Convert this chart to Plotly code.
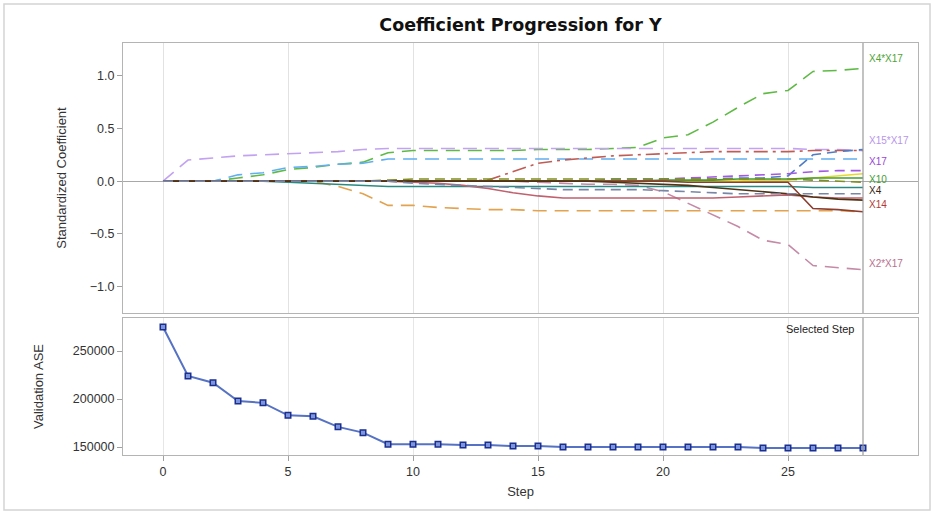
import plotly.graph_objects as go

steps = list(range(29))

# ---- Coefficient progression (standardized coefficients by step) ----
coef_names = ["X4*X17", "X15*X17", "Blue dashed", "Orange dashed", "X2*X17",
              "Red dashdot", "Steel dashed", "X17", "Yellow", "X10", "Olive dashed",
              "Teal", "X14", "Brown", "X4", "Gray dashed"]
x4x17 = [0, 0, 0, 0.03, 0.06, 0.11, 0.13, 0.16, 0.18, 0.27, 0.29, 0.29, 0.29, 0.29, 0.29,
         0.30, 0.30, 0.30, 0.31, 0.32, 0.41, 0.44, 0.56, 0.70, 0.83, 0.86, 1.04, 1.05, 1.07]
x15x17 = [0, 0.20, 0.22, 0.24, 0.25, 0.26, 0.27, 0.28, 0.30, 0.31, 0.31, 0.31, 0.31, 0.31, 0.31,
          0.31, 0.31, 0.31, 0.31, 0.31, 0.31, 0.31, 0.31, 0.31, 0.31, 0.31, 0.30, 0.30, 0.29]
blue_d = [0, 0, 0, 0.06, 0.08, 0.13, 0.14, 0.16, 0.17, 0.21, 0.21, 0.21, 0.21, 0.21, 0.21,
          0.21, 0.21, 0.21, 0.21, 0.21, 0.21, 0.21, 0.21, 0.21, 0.21, 0.21, 0.21, 0.21, 0.21]
orange_d = [0, 0, 0, 0, 0, 0, 0, -0.05, -0.12, -0.23, -0.23, -0.25, -0.26, -0.27, -0.27,
            -0.28, -0.28, -0.28, -0.28, -0.28, -0.28, -0.28, -0.28, -0.28, -0.28, -0.28, -0.28, -0.28, -0.29]
x2x17 = [0, 0, 0, 0, 0, 0, 0, 0, 0, 0, 0, 0, 0, 0, 0,
         -0.01, -0.02, -0.03, -0.03, -0.04, -0.10, -0.21, -0.32, -0.43, -0.56, -0.60, -0.80, -0.82, -0.84]
red_dd = [0, 0, 0, 0, 0, 0, 0, 0, 0, 0, 0, 0, 0, 0.01, 0.09,
          0.17, 0.20, 0.22, 0.24, 0.25, 0.26, 0.27, 0.28, 0.28, 0.28, 0.28, 0.29, 0.29, 0.29]
steel_d = [0, 0, 0, 0, 0, 0, 0, 0, 0, 0, 0, 0, 0, 0, 0,
           0, 0, 0, 0.02, 0.02, 0.02, 0.02, 0.02, 0.03, 0.03, 0.05, 0.25, 0.28, 0.30]
x17 = [0, 0, 0, 0, 0, 0, 0, 0, 0, 0, 0, 0, 0, 0, 0,
       0, 0, 0, 0, 0, 0.02, 0.03, 0.04, 0.05, 0.06, 0.07, 0.09, 0.10, 0.10]
yellow = [0, 0, 0, 0, 0, 0, 0, 0, 0, 0, 0, 0, 0, 0, 0,
          0, 0, 0, 0, 0, 0, 0, 0, 0, 0.01, 0.01, 0.03, 0.05, 0.07]
x10 = [0, 0, 0, 0, 0, 0, 0, 0, 0, 0, 0, 0, 0, 0, 0,
       0, 0, 0, 0, 0, 0.01, 0.01, 0.01, 0.02, 0.02, 0.02, 0.03, 0.03, 0.03]
olive_d = [0, 0, 0, 0, 0, 0, 0, 0, 0, 0.01, 0.02, 0.02, 0.02, 0.02, 0.02,
           0.02, 0.02, 0.02, 0.02, 0.02, 0.02, 0.02, 0.02, 0.02, 0.02, 0.02, 0.01, 0.00, -0.01]
teal = [0, 0, 0, 0, 0, -0.01, -0.02, -0.03, -0.04, -0.05, -0.05, -0.05, -0.05, -0.05, -0.05,
        -0.05, -0.05, -0.05, -0.05, -0.05, -0.05, -0.05, -0.05, -0.05, -0.05, -0.05, -0.06, -0.06, -0.06]
x14 = [0, 0, 0, 0, 0, 0, 0, 0, 0, 0, -0.01, -0.02, -0.04, -0.07, -0.11,
       -0.14, -0.16, -0.16, -0.16, -0.16, -0.16, -0.16, -0.16, -0.15, -0.14, -0.13, -0.15, -0.16, -0.16]
brown = [0, 0, 0, 0, 0, 0, 0, 0, 0, 0, 0, 0, 0, 0, 0,
         0, 0, 0, 0, 0, 0, -0.01, -0.01, -0.01, -0.01, -0.01, -0.26, -0.27, -0.29]
x4 = [0, 0, 0, 0, 0, 0, 0, 0, 0, 0, 0, 0, 0, 0, 0,
      0, 0, 0, -0.01, -0.02, -0.03, -0.04, -0.06, -0.08, -0.10, -0.12, -0.15, -0.17, -0.18]
gray_d = [0, 0, 0, 0, 0, 0, 0, 0, 0, 0, -0.02, -0.03, -0.04, -0.05, -0.06,
          -0.07, -0.08, -0.08, -0.08, -0.08, -0.09, -0.10, -0.11, -0.12, -0.12, -0.12, -0.12, -0.12, -0.12]

coef_values = [x4x17, x15x17, blue_d, orange_d, x2x17, red_dd, steel_d, x17, yellow, x10,
               olive_d, teal, x14, brown, x4, gray_d]
coef_colors = ["#5fba45", "#c3a2f2", "#62aef2", "#e2a24e", "#c58aa6", "#bf5c55", "#4f7cc4",
               "#a35ae0", "#e8d630", "#3f9d35", "#7f8e1f", "#2a8a82", "#c0616f", "#8c3d2e",
               "#4e3414", "#7a86a6"]
coef_dashes = ["14px,8px", "14px,8px", "14px,8px", "14px,8px", "14px,8px", "14px,5px,3px,5px",
               "10px,6px", "10px,6px", "solid", "solid", "10px,6px", "solid", "solid", "solid",
               "solid", "10px,6px"]

# Curve labels at the right edge
label_names = ["X4*X17", "X15*X17", "X17", "X10", "X4", "X14", "X2*X17"]
label_colors = ["#4fa336", "#b795ea", "#9a46d8", "#3f9d35", "#3a2410", "#b23a34", "#b8708e"]
label_y = [1.166, 0.389, 0.19, 0.02, -0.085, -0.218, -0.777]

# ---- Validation ASE by step ----
ase = [275000, 224000, 217000, 198000, 196000, 183000, 182000, 171000, 165000, 153000,
       153000, 153000, 152000, 152000, 151000, 151000, 150000, 150000, 150000, 150000,
       150000, 150000, 150000, 150000, 149000, 149000, 149000, 149000, 149000]
selected_step = 28
x_ticks = [0, 5, 10, 15, 20, 25]

fig = go.Figure()
for name, vals, col, dash in zip(coef_names, coef_values, coef_colors, coef_dashes):
    fig.add_trace(go.Scatter(x=steps, y=vals, mode="lines", name=name,
                             line=dict(color=col, width=1.6, dash=dash),
                             xaxis="x", yaxis="y", showlegend=False))

fig.add_trace(go.Scatter(x=steps, y=ase, mode="lines+markers", name="Validation ASE",
                         line=dict(color="#5672c4", width=2),
                         marker=dict(symbol="square", size=5.5, color="#7d95dc",
                                     line=dict(color="#1b2f8f", width=1.5)),
                         xaxis="x2", yaxis="y2", showlegend=False))

font = "Liberation Sans, Arial, sans-serif"
axis_common = dict(showline=True, mirror=True, linecolor="#b4b4b4", linewidth=1)

fig.update_layout(
    width=935, height=514,
    margin=dict(l=123, r=17, t=43, b=59),
    paper_bgcolor="white", plot_bgcolor="white",
    title=dict(text="<b>Coefficient Progression for Y</b>", x=0.5567, xanchor="center",
               y=0.952, yanchor="middle",
               font=dict(family="DejaVu Sans, Liberation Sans, sans-serif", size=17.5, color="#111")),
    xaxis=dict(domain=[0, 1], anchor="y", range=[-1.6, 30.2], tickvals=x_ticks,
               showticklabels=False, ticks="", showgrid=True, gridcolor="#e2e2e2",
               zeroline=False, **axis_common),
    yaxis=dict(domain=[0.3447, 1], anchor="x", range=[-1.25, 1.31],
               tickvals=[-1.0, -0.5, 0.0, 0.5, 1.0], tickformat=".1f",
               ticks="outside", ticklen=5, tickcolor="#a0a0a0",
               showgrid=False, zeroline=True, zerolinecolor="#a8a8a8", zerolinewidth=1,
               tickfont=dict(family=font, size=12.5, color="#333"),
               title=dict(text="Standardized Coefficient", standoff=20,
                          font=dict(family=font, size=13, color="#333")),
               **axis_common),
    xaxis2=dict(domain=[0, 1], anchor="y2", matches="x", range=[-1.6, 30.2], tickvals=x_ticks,
                ticks="outside", ticklen=5, tickcolor="#a0a0a0",
                showgrid=True, gridcolor="#e6e6e6", zeroline=False,
                tickfont=dict(family=font, size=12.5, color="#333"),
                title=dict(text="Step", standoff=8, font=dict(family=font, size=13, color="#333")),
                **axis_common),
    yaxis2=dict(domain=[0, 0.3325], anchor="x2", range=[141700, 284400],
                tickvals=[150000, 200000, 250000], tickformat="d",
                ticks="outside", ticklen=5, tickcolor="#a0a0a0",
                showgrid=False, zeroline=False,
                tickfont=dict(family=font, size=12.5, color="#333"),
                title=dict(text="Validation ASE", standoff=26,
                           font=dict(family=font, size=13, color="#333")),
                **axis_common),
)

# Selected step reference lines
for xr, yref in [("x", "y domain"), ("x2", "y2 domain")]:
    fig.add_shape(type="line", xref=xr, yref=yref,
                  x0=selected_step, x1=selected_step, y0=0, y1=1,
                  line=dict(color="#9a9a9a", width=1.2))

fig.add_annotation(x=selected_step, xref="x2", y=1, yref="y2 domain", text="Selected Step",
                   showarrow=False, xanchor="right", yanchor="top", xshift=-6, yshift=-3,
                   font=dict(family=font, size=11, color="#222"))

for name, col, yv in zip(label_names, label_colors, label_y):
    fig.add_annotation(x=selected_step, xref="x", y=yv, yref="y", text=name, showarrow=False,
                       xanchor="left", yanchor="middle", xshift=4,
                       font=dict(family=font, size=10, color=col))

# outer frame
fig.add_shape(type="rect", xref="paper", yref="paper", x0=-0.1497, x1=1.0151, y0=-0.1335, y1=1.0947,
              line=dict(color="#d4d4d4", width=1.5), layer="below")

fig.write_html("out.html")
